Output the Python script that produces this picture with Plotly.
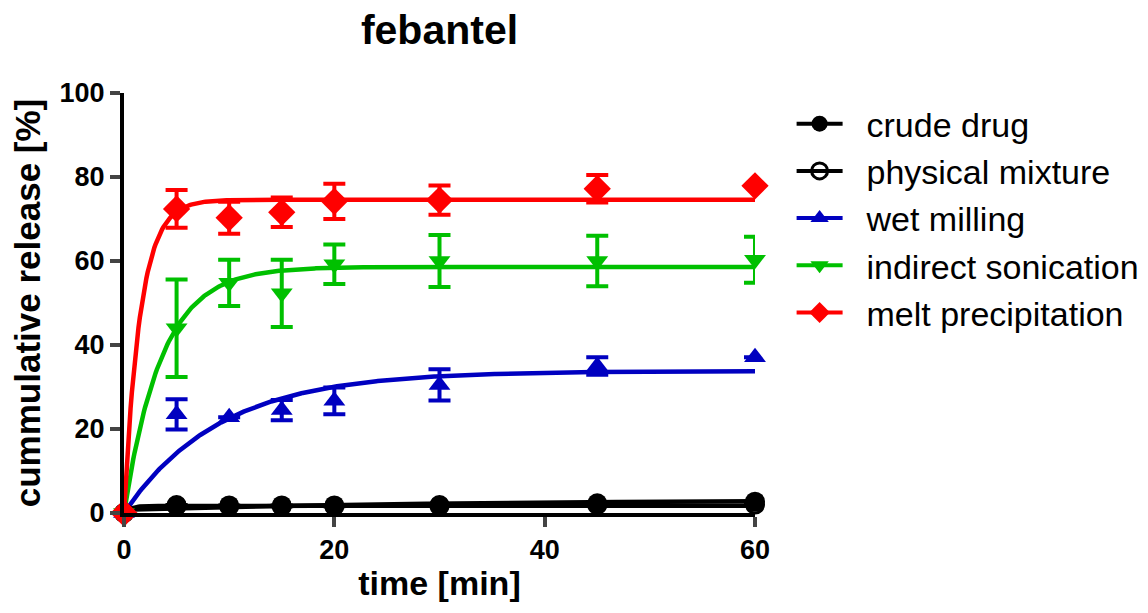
import numpy as np
import plotly.graph_objects as go

# ---------------- data ----------------
time_min = [0, 5, 10, 15, 20, 30, 45, 60]

series_names = ["crude drug", "physical mixture", "wet milling",
                "indirect sonication", "melt precipitation"]

crude_drug = [0, 1.9, 1.8, 1.8, 1.8, 1.9, 2.3, 2.7]
crude_drug_err = [None] * 8

physical_mixture = [0, 1.7, 1.6, 1.6, 1.6, 1.7, 1.9, 2.0]
physical_mixture_err = [None] * 8

wet_milling = [0, 23.5, 22.8, 24.5, 26.7, 30.5, 35.0, 37.1]
wet_milling_err = [None, 3.6, None, 2.4, 3.2, 3.7, 2.1, None]

indirect_sonication = [0, 44.0, 54.8, 52.3, 59.2, 60.0, 60.0, 60.3]
indirect_sonication_err = [None, 11.6, 5.5, 8.0, 4.7, 6.2, 6.0, 5.5]

melt_precipitation = [0, 72.4, 70.3, 71.6, 74.2, 74.5, 77.2, 77.9]
melt_precipitation_err = [None, 4.5, 3.8, 3.5, 4.2, 3.5, 3.3, None]

# one-phase association fit parameters: Y0, plateau, K
fit_y0 = [0.8, 0.0, 0.0, 0.0, 0.0]
fit_plateau = [3.2, 1.7, 33.8, 58.6, 74.6]
fit_k = [0.03, 1.5, 0.11, 0.28, 0.65]

x_ticks = [0, 20, 40, 60]
y_ticks = [0, 20, 40, 60, 80, 100]

# ---------------- styling ----------------
colors = ["#000000", "#000000", "#0000C0", "#00C000", "#FF0000"]
symbols = ["circle", "circle-open", "triangle-up", "triangle-down", "diamond"]
sizes = [20, 17, 19, 19, 21]

values = [crude_drug, physical_mixture, wet_milling, indirect_sonication, melt_precipitation]
errors = [crude_drug_err, physical_mixture_err, wet_milling_err,
          indirect_sonication_err, melt_precipitation_err]

t_fit = np.linspace(0, 60, 481)

fig = go.Figure()

draw_order = [1, 0, 2, 3, 4]

# fitted curves
for i in draw_order:
    yfit = fit_y0[i] + (fit_plateau[i] - fit_y0[i]) * (1 - np.exp(-fit_k[i] * t_fit))
    fig.add_trace(go.Scatter(
        x=t_fit, y=yfit, mode="lines",
        line=dict(color=colors[i], width=4.5),
        showlegend=False, hoverinfo="skip", cliponaxis=False))

# data points with error bars
for i in draw_order:
    err = [np.nan if e is None else e for e in errors[i]]
    fig.add_trace(go.Scatter(
        x=time_min, y=values[i], mode="markers",
        marker=dict(symbol=symbols[i], size=sizes[i], color=colors[i],
                    line=dict(color=colors[i], width=3 if i == 1 else 0)),
        error_y=dict(type="data", array=err, visible=True,
                     color=colors[i], thickness=4, width=11),
        showlegend=False, cliponaxis=False))

# legend entries
for i in range(5):
    fig.add_trace(go.Scatter(
        x=[None], y=[None], mode="lines+markers",
        name="\u00a0\u00a0" + series_names[i],
        line=dict(color=colors[i], width=4),
        marker=dict(symbol=symbols[i], size=16, color=colors[i],
                    line=dict(color=colors[i], width=3 if i == 1 else 0)),
        legendgroup=series_names[i]))

font_family = "Liberation Sans, Arial, sans-serif"

W, H = 1140, 605  # page body adds an 8 px margin

fig.update_layout(
    width=W, height=H,
    margin=dict(l=116, r=W - 116 - 631, t=85, b=H - 85 - 420, autoexpand=False),
    plot_bgcolor="white", paper_bgcolor="white",
    font=dict(family=font_family, color="black"),
    title=dict(text="febantel", x=0.5, xref="paper", xanchor="center",
               y=1 - 22 / H, yref="container", yanchor="middle",
               font=dict(size=41, weight="bold", family=font_family)),
    showlegend=True,
    legend=dict(x=1.058, xanchor="left", y=0.995, yanchor="top",
                font=dict(size=34, family=font_family),
                tracegroupgap=0, traceorder="grouped",
                bgcolor="rgba(0,0,0,0)", itemwidth=46),
    xaxis=dict(range=[0, 60], tickvals=x_ticks, ticks="outside", ticklen=10,
               tickwidth=4, showline=True, linewidth=4, linecolor="black",
               showgrid=False, zeroline=False, automargin=False,
               tickfont=dict(size=27, weight="bold"),
               title=dict(text="time [min]", font=dict(size=34, weight="bold"),
                          standoff=8)),
    yaxis=dict(range=[0, 100], tickvals=y_ticks, ticks="outside", ticklen=10,
               tickwidth=4, showline=True, linewidth=4, linecolor="black",
               showgrid=False, zeroline=False, automargin=False,
               tickfont=dict(size=27, weight="bold"),
               title=dict(text="cummulative release [%]",
                          font=dict(size=35, weight="bold"), standoff=19)),
)

fig.write_html("out.html")
